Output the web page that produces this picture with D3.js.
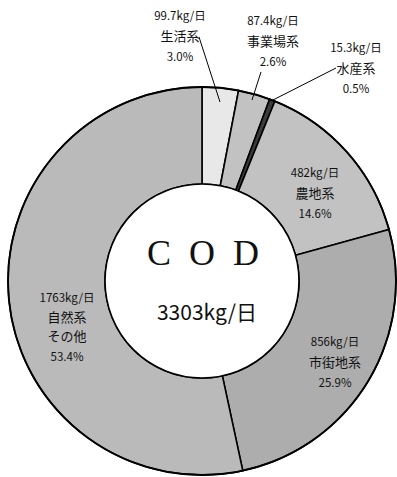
<!DOCTYPE html>
<html>
<head>
<meta charset="utf-8">
<script src="https://cdn.jsdelivr.net/npm/d3@7"></script>
<style>
  body { margin: 0; background: #fff; }
  text { font-family: "Noto Sans CJK JP", "Noto Sans", sans-serif; fill: #111; }
</style>
</head>
<body>
<svg id="chart" width="397" height="477"></svg>
<script>
// data (clockwise from 12 o'clock)
const names   = ['生活系', '事業場系', '水産系', '農地系', '市街地系', '自然系\nその他'];
const loads   = [99.7, 87.4, 15.3, 482, 856, 1763];   // kg/日
const shares  = ['3.0%', '2.6%', '0.5%', '14.6%', '25.9%', '53.4%'];
const fills   = ['#e8e8e8', '#c2c2c2', '#3c3c3c', '#c2c2c2', '#adadad', '#bababa'];
const total   = '3303kg/日';

let svg = d3.select('#chart');
let cx = 202, cy = 281, rOut = 194, rIn = 97;

let g = svg.append('g').attr('transform', `translate(${cx},${cy})`);

let pie = d3.pie().sort(null).value(d => d);
let arc = d3.arc().innerRadius(rIn).outerRadius(rOut);
let arcs = pie(loads);

g.selectAll('path.slice')
  .data(arcs)
  .enter()
  .append('path')
  .attr('class', 'slice')
  .attr('d', arc)
  .attr('fill', (d, i) => fills[i])
  .attr('stroke', '#000')
  .attr('stroke-width', 1.6);

// outer / inner ring outline
g.append('circle').attr('r', rOut).attr('fill', 'none').attr('stroke', '#000').attr('stroke-width', 1.8);
g.append('circle').attr('r', rIn).attr('fill', '#fff').attr('stroke', '#000').attr('stroke-width', 1.6);

// label positions (screen coords) + optional leader line
let labelPos = [
  {x: 180, y: 15, lead: [199, 37, 220, 102]},
  {x: 273, y: 20, lead: [261, 72, 252, 100]},
  {x: 356, y: 47, lead: [336, 68, 271, 101]},
  {x: 315, y: 172},
  {x: 335, y: 341},
  {x: 67,  y: 297}
];

labelPos.forEach((p, i) => {
  if (p.lead) {
    svg.append('line')
      .attr('x1', p.lead[0]).attr('y1', p.lead[1])
      .attr('x2', p.lead[2]).attr('y2', p.lead[3])
      .attr('stroke', '#000').attr('stroke-width', 1);
  }
  let lines = [loads[i] + 'kg/日'].concat(names[i].split('\n')).concat([shares[i]]);
  let step = lines.length > 3 ? 19.5 : 20.5;
  let t = svg.append('text').attr('text-anchor', 'middle');
  lines.forEach((s, j) => {
    t.append('tspan')
      .attr('x', p.x)
      .attr('y', p.y + 5 + j * step)
      .attr('font-size', (j == 0 || j == lines.length - 1) ? 11.5 : 13)
      .text(s);
  });
});

// centre text
g.append('text')
  .attr('text-anchor', 'middle')
  .attr('x', 10).attr('y', -16)
  .style('font-family', '"Liberation Serif", "DejaVu Serif", serif')
  .style('font-size', '36px')
  .style('letter-spacing', '18px')
  .text('COD');

g.append('text')
  .attr('text-anchor', 'middle')
  .attr('x', 5).attr('y', 39)
  .style('font-size', '21px')
  .text(total);
</script>
</body>
</html>
